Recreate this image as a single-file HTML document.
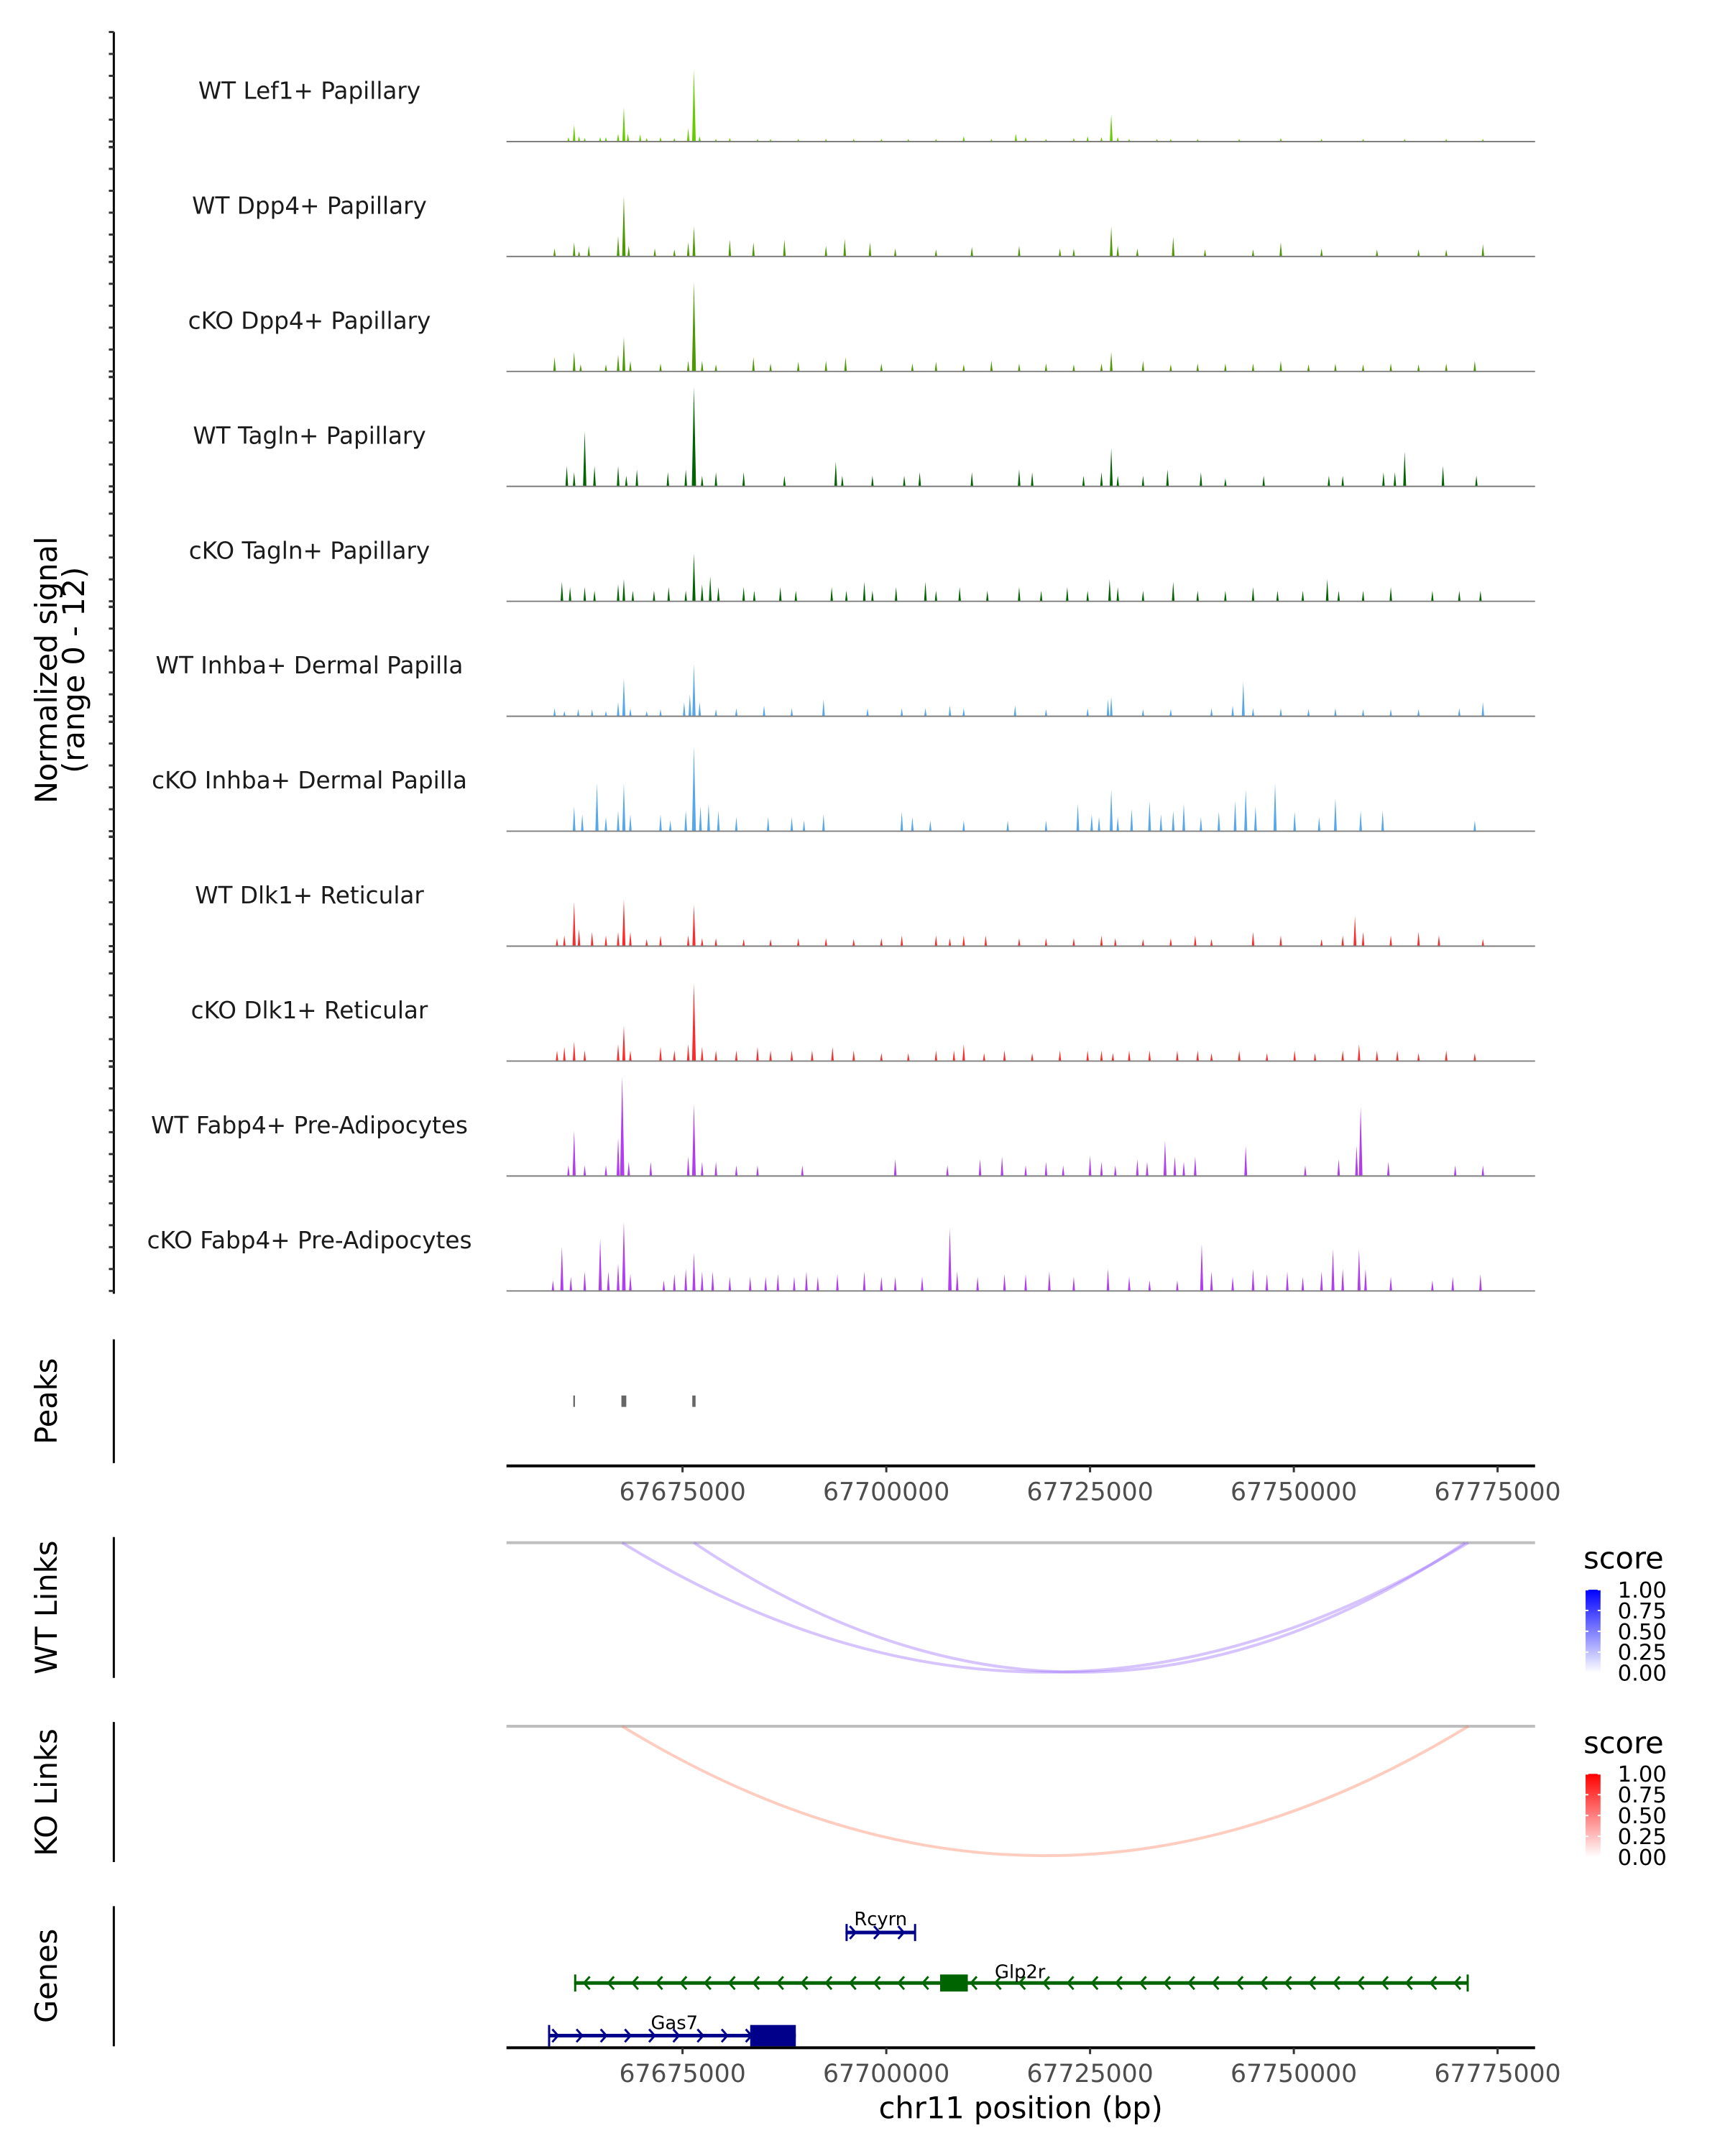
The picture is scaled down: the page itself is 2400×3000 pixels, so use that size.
<!DOCTYPE html>
<html><head><meta charset="utf-8">
<style>
html,body{margin:0;padding:0;background:#fff;}
svg{display:block;font-family:"DejaVu Sans","Liberation Sans",sans-serif;}
</style></head>
<body>
<svg id="chart" width="2400" height="3000" viewBox="0 0 2400 3000" xmlns="http://www.w3.org/2000/svg">
<rect x="0" y="0" width="2400" height="3000" fill="#fff"/>
<g id="root" transform="scale(0.9897)">
<g id="tracks"></g>
<g id="peaks"></g>
<g id="links"></g>
<g id="genes"></g>
<g id="axes"></g>
</g>
</svg>
<script>
// positions in kb after chr11:67,600,000 ; signal values on 0-12 scale
const trackNames = ["WT Lef1+ Papillary","WT Dpp4+ Papillary","cKO Dpp4+ Papillary","WT Tagln+ Papillary","cKO Tagln+ Papillary","WT Inhba+ Dermal Papilla","cKO Inhba+ Dermal Papilla","WT Dlk1+ Reticular","cKO Dlk1+ Reticular","WT Fabp4+ Pre-Adipocytes","cKO Fabp4+ Pre-Adipocytes"];
const trackColors = ["#66cc00","#4c9900","#4c9900","#006400","#006400","#56a7ec","#56a7ec","#ff2a2a","#ff2a2a","#b13cf2","#b13cf2"];
const pos0 = [61.0,61.7,62.3,63.0,64.9,65.6,67.1,67.8,68.3,69.8,70.6,72.3,74.0,75.7,76.4,77.1,79.1,80.8,84.2,85.8,89.2,92.6,96.0,99.4,102.7,106.1,109.5,112.9,115.9,117.1,119.6,123.0,124.7,126.4,127.6,128.4,129.8,133.2,134.9,138.2,143.3,148.4,153.4,158.5,163.6,168.7,173.2];
const val0 = [0.5,1.9,0.6,0.4,0.5,0.5,0.9,3.9,0.9,0.8,0.4,0.5,0.4,1.5,8.1,0.6,0.3,0.4,0.3,0.3,0.3,0.3,0.3,0.3,0.3,0.3,0.6,0.3,0.9,0.5,0.3,0.4,0.6,0.5,3.1,0.5,0.3,0.3,0.3,0.3,0.3,0.4,0.3,0.3,0.3,0.3,0.3];
const pos1 = [59.3,61.7,62.3,63.5,67.1,67.8,68.4,71.6,74.0,75.7,76.4,80.8,83.7,87.5,92.6,94.9,98.0,101.1,106.1,110.5,116.3,121.3,123.0,127.6,128.4,130.8,135.2,139.1,145.0,148.4,153.4,160.2,165.3,168.7,173.2];
const val1 = [0.9,1.6,0.6,1.2,2.3,6.8,1.2,0.9,0.8,1.6,3.4,1.9,1.6,1.9,1.2,2.0,1.6,0.9,0.8,1.1,1.2,0.9,0.9,3.4,1.2,0.9,2.2,0.8,0.8,1.6,0.9,0.8,0.8,0.8,1.4];
const pos2 = [59.3,61.7,62.5,65.6,67.1,67.8,68.6,72.3,75.7,76.4,77.4,79.1,83.7,85.8,89.2,92.6,95.0,99.4,103.2,106.1,109.5,112.9,116.3,119.6,123.0,126.4,127.6,131.5,134.9,138.2,141.6,145.0,148.4,151.8,155.1,158.5,161.9,165.3,168.7,172.2];
const val2 = [1.6,2.2,0.8,0.8,1.9,3.9,1.2,0.9,1.2,10.1,1.2,0.8,1.6,0.9,1.1,1.2,1.6,0.9,0.9,1.1,0.8,1.2,0.9,0.9,0.8,0.9,2.2,1.2,0.8,0.9,0.9,0.9,1.2,0.8,0.9,0.8,0.9,0.8,0.9,1.2];
const pos3 = [60.8,61.7,63.0,64.2,67.1,68.1,69.4,73.2,75.4,76.4,77.4,79.1,82.5,87.5,93.8,94.6,98.3,102.2,104.1,110.5,116.3,117.9,124.2,126.4,127.6,128.4,131.5,134.5,138.6,141.6,146.3,154.3,156.0,161.0,162.4,163.6,168.3,172.4];
const val3 = [2.3,1.6,6.2,2.3,2.3,1.2,1.9,1.6,1.9,11.2,1.2,1.6,1.6,1.2,2.8,1.2,1.2,1.2,1.6,1.6,1.9,1.6,1.2,1.6,4.3,1.2,1.2,1.9,1.6,0.9,1.2,1.2,1.2,1.6,1.6,3.9,2.3,1.2];
const pos4 = [60.2,61.2,63.0,64.2,67.1,67.8,68.9,71.5,73.3,75.4,76.4,77.4,78.4,79.4,82.5,83.8,87.0,88.9,93.3,95.1,97.3,98.3,101.2,104.8,106.1,109.0,112.4,116.3,119.0,122.2,124.7,127.4,128.4,131.5,135.2,138.2,141.6,145.0,148.0,151.1,154.1,155.5,158.5,161.9,167.0,170.3,172.9];
const val4 = [2.2,1.6,1.6,1.2,1.9,2.5,1.2,1.2,1.6,1.2,5.4,1.9,2.8,1.6,1.6,1.2,1.6,1.2,1.6,1.2,2.2,1.2,1.6,2.2,1.2,1.6,1.2,1.6,1.2,1.6,1.2,2.5,1.6,1.2,2.2,1.2,1.2,1.6,1.2,1.2,2.5,1.2,1.2,1.6,1.2,1.2,1.2];
const pos5 = [59.3,60.5,62.2,63.9,65.6,67.1,67.8,68.6,70.6,72.3,75.2,75.9,76.4,77.1,79.1,81.6,85.0,88.4,92.3,97.7,101.9,104.8,107.8,109.5,115.8,119.6,124.7,127.2,127.6,131.5,134.9,139.9,142.5,143.8,145.0,148.4,151.8,155.1,158.5,161.9,165.3,170.3,173.2];
const val5 = [0.9,0.6,0.8,0.8,0.6,1.6,4.3,0.9,0.6,0.8,1.6,2.5,5.9,1.6,0.8,0.9,1.2,0.9,1.9,0.9,0.9,0.9,1.2,0.9,1.2,0.8,0.9,1.9,2.2,0.8,0.8,0.9,1.2,3.9,0.9,0.9,0.8,0.9,0.8,0.8,0.8,0.9,1.6];
const pos6 = [61.7,62.7,64.5,65.6,67.1,67.8,68.6,72.3,73.5,75.4,76.4,77.2,78.2,79.4,81.6,85.5,88.4,89.9,92.3,101.9,103.2,105.4,109.5,114.9,119.6,123.5,125.2,126.1,127.6,128.4,130.1,132.3,133.7,135.2,136.5,138.6,140.8,142.8,144.1,145.3,147.7,150.1,153.1,155.1,158.2,160.9,172.2];
const val6 = [2.8,1.9,5.4,1.6,2.3,5.4,1.9,1.9,1.2,2.3,9.6,2.8,3.1,2.3,1.6,1.6,1.6,1.2,1.9,2.2,1.6,1.2,1.2,1.2,1.2,3.1,1.9,1.6,4.7,1.6,2.5,3.4,1.9,2.3,3.1,1.6,2.2,3.4,4.7,2.8,5.4,2.2,1.6,3.7,2.3,2.3,1.2];
const pos7 = [59.6,60.5,61.7,62.3,63.9,65.6,67.1,67.8,68.6,70.6,72.3,75.7,76.4,77.4,79.1,82.5,85.8,89.2,92.6,96.0,99.4,101.9,106.1,107.8,109.5,112.2,116.3,119.6,123.0,126.4,128.1,131.5,134.9,137.9,139.9,145.0,148.4,153.4,156.0,157.5,158.5,161.9,165.3,167.8,173.2];
const val7 = [0.9,1.2,5.0,1.9,1.6,1.2,1.6,5.3,1.6,0.8,1.2,1.2,4.7,0.9,0.9,0.8,0.8,0.9,0.9,0.8,0.9,1.2,1.2,0.9,1.2,1.2,0.9,0.9,0.9,1.2,0.9,0.8,0.9,1.2,0.8,1.6,1.2,0.8,1.2,3.4,1.6,1.2,1.6,1.2,0.8];
const pos8 = [59.6,60.5,61.7,63.0,67.1,67.8,68.6,72.3,74.0,75.7,76.4,77.4,79.1,81.6,84.2,85.8,88.4,90.9,93.4,96.0,99.4,102.7,106.1,108.3,109.5,112.0,114.5,117.9,121.3,124.7,126.4,127.8,129.8,132.3,135.7,138.2,139.9,143.3,146.7,150.1,152.6,156.0,158.0,160.2,162.7,165.3,168.7,172.2];
const val8 = [1.2,1.6,2.2,1.2,1.9,4.0,1.2,1.6,1.2,1.9,8.8,1.6,1.2,1.2,1.6,1.2,1.2,1.2,1.6,1.2,0.9,0.9,1.2,1.2,1.9,0.9,1.2,0.9,1.2,1.2,1.2,0.9,1.2,1.2,1.2,1.2,0.9,1.2,0.9,1.2,0.9,1.2,1.9,1.2,1.2,0.9,1.2,0.9];
const pos9 = [61.0,61.7,63.0,65.6,67.1,67.6,68.4,71.1,75.7,76.4,77.4,79.1,81.6,84.2,89.7,101.1,107.5,111.5,114.2,117.1,119.6,121.7,125.0,126.4,128.1,130.8,132.0,134.2,135.4,136.5,137.9,144.1,151.4,155.5,157.7,158.2,161.6,169.8,173.2];
const val9 = [1.2,5.1,1.2,1.2,4.3,11.2,1.6,1.6,2.2,8.1,1.6,1.6,1.2,1.2,1.2,1.9,1.2,1.9,2.2,1.2,1.6,1.2,2.3,1.6,1.2,1.9,1.6,4.0,2.2,1.6,2.2,3.4,1.2,1.9,3.4,7.8,1.6,1.2,1.2];
const pos10 = [59.1,60.2,61.3,63.0,64.9,65.9,67.1,67.8,68.6,72.7,74.0,75.4,76.4,77.4,78.7,80.8,83.3,85.2,86.7,88.7,90.2,91.6,94.0,97.3,99.4,101.1,104.4,107.8,108.7,111.2,114.5,117.1,120.0,123.0,127.2,129.8,132.3,135.7,138.7,139.9,142.5,145.0,146.7,149.2,151.1,153.4,154.8,156.0,158.0,158.8,161.9,167.0,169.5,172.9];
const val10 = [1.2,5.0,1.6,2.2,5.9,2.2,3.1,7.8,1.9,1.2,1.9,2.5,4.3,2.2,2.2,1.6,1.6,1.6,1.9,1.6,2.2,1.6,1.9,2.2,1.6,1.6,1.6,7.1,2.2,1.6,1.9,1.9,2.2,1.6,2.5,1.6,1.2,1.2,5.3,2.2,1.6,2.5,1.9,2.2,1.6,2.2,4.7,2.5,4.7,2.5,1.6,1.2,1.6,1.9];
const trackPos = [pos0,pos1,pos2,pos3,pos4,pos5,pos6,pos7,pos8,pos9,pos10];
const trackVal = [val0,val1,val2,val3,val4,val5,val6,val7,val8,val9,val10];
const peakStarts = [61.6,67.5,76.2];
const peakEnds = [61.8,68.1,76.6];
const wtLinkStarts = [67.6,76.4];
const wtLinkEnds = [171.4,171.0];
const wtLinkScores = [0.2,0.2];
const koLinkStarts = [67.6];
const koLinkEnds = [171.4];
const koLinkScores = [0.2];
const geneNames = ["Rcyrn","Glp2r","Gas7"];
const geneStarts = [95.0,61.7,58.5];
const geneEnds = [103.6,171.4,88.9];
const geneStrands = [1,-1,1];
const geneExonStarts = [[95.0,103.4],[106.6,61.7,171.2],[83.3,58.5]];
const geneExonEnds = [[95.2,103.6],[110.0,61.9,171.4],[88.9,58.7]];
const tickValues = [67675000,67700000,67725000,67750000,67775000];
const scoreTicks = ["1.00","0.75","0.50","0.25","0.00"];

const NS="http://www.w3.org/2000/svg";
const X0=712, X1=2158, DOM0=67653.4, DOM1=67779.6, OFF=67600;
function xs(kbOff){return X0+((OFF+kbOff)-DOM0)/(DOM1-DOM0)*(X1-X0);}
function xbp(bp){return xs(bp/1000-OFF);}
const BASE0=199, STEP=161.6, PXU=12.5;
function ys(i,v){return BASE0+i*STEP - v*PXU;}
function mk(tag,attrs,parent){const e=document.createElementNS(NS,tag);for(const k in attrs)e.setAttribute(k,attrs[k]);parent.appendChild(e);return e;}
const gT=document.getElementById('tracks');
trackNames.forEach((nm,i)=>{
  const b=BASE0+i*STEP;
  const g=mk('g',{},gT);
  
  
  const t=mk('text',{x:435,y:b-60,'text-anchor':'middle','font-size':33,fill:'#1a1a1a'},g);
  t.textContent=nm;
  
  
  trackPos[i].forEach((p,j)=>{
    const x=xs(p), top=ys(i,trackVal[i][j]);
    const hw=1.6+trackVal[i][j]*0.12;
    const pk=mk('polygon',{points:`${x-hw},${b} ${x},${top} ${x+hw},${b}`,fill:trackColors[i]},g);
    
    
  });
  const ln=mk('line',{x1:X0,x2:X1,y1:b,y2:b,stroke:'#7f7f7f','stroke-width':2},g);
  
  
});
const gA=document.getElementById('axes');
let ax=mk('line',{x1:160,x2:160,y1:45,y2:1819,stroke:'#000','stroke-width':3},gA);


for(let i=0;i<11;i++){const b=BASE0+i*STEP;
  const ys2=[0,1,2,3,4,5].map(j=>b-j*30.8).concat([b+8]);
  ys2.forEach(y=>{ if(y>=44&&y<=1820){const tk=mk('line',{x1:153,x2:160,y1:y,y2:y,stroke:'#333','stroke-width':3},gA);
    
    }});
}
function vtext(txt,x,y,size,name){const t=mk('text',{x:x,y:y,'text-anchor':'middle','font-size':size,fill:'#000',transform:`rotate(-90 ${x} ${y})`},gA);t.textContent=txt;
  
  return t;}
vtext('Normalized signal',80,942,42,'y-axis-title');
vtext('(range 0 - 12)',118,942,42,'y-axis-range');
vtext('Peaks',80,1970,42,'peaks-title');
vtext('WT Links',80,2260,42,'wt-links-title');
vtext('KO Links',80,2520,42,'ko-links-title');
vtext('Genes',80,2778,42,'genes-title');
[[1883,2057,'peaks-bar'],[2161,2359,'wt-links-bar'],[2421,2618,'ko-links-bar'],[2680,2877,'genes-bar']].forEach(a=>{
  const l=mk('line',{x1:160,x2:160,y1:a[0],y2:a[1],stroke:'#000','stroke-width':3},gA);
  
  
});
function xaxis(y,name){
  const l=mk('line',{x1:X0,x2:X1,y1:y,y2:y,stroke:'#000','stroke-width':4},gA);
  
  
  tickValues.forEach(v=>{const x=xbp(v);
    const tk=mk('line',{x1:x,x2:x,y1:y,y2:y+9,stroke:'#333','stroke-width':3},gA);
    
    
    const t=mk('text',{x:x,y:y+48,'text-anchor':'middle','font-size':35,fill:'#4d4d4d'},gA);t.textContent=String(v);
    
    });
}
xaxis(2061,'peaks-x-axis');
xaxis(2879,'genes-x-axis');
const xt=mk('text',{x:1435,y:2978,'text-anchor':'middle','font-size':42,fill:'#000'},gA);xt.textContent='chr11 position (bp)';


const gP=document.getElementById('peaks');
peakStarts.forEach((s,i)=>{const x0=xs(s),x1=xs(peakEnds[i]);
  const r=mk('rect',{x:x0,y:1962,width:Math.max(2,x1-x0),height:16,fill:'#666'},gP);
  
  });
const gL=document.getElementById('links');
function linkPanel(y0,starts,ends,scores,hue,name){
  const l=mk('line',{x1:X0,x2:X1,y1:y0,y2:y0,stroke:'#bebebe','stroke-width':4},gL);
  
  
  starts.forEach((s,i)=>{const a=xs(s),b=xs(ends[i]),d=182;
    const c=hue==='blue'?`rgba(150,100,255,${0.3+scores[i]*0.8*0.5})`:`rgba(255,120,90,${0.3+scores[i]*0.8*0.5})`;
    const p=mk('path',{d:`M${a},${y0} Q${(a+b)/2},${y0+d*2} ${b},${y0}`,fill:'none',stroke:c,'stroke-width':4},gL);
    
    });
}
linkPanel(2169,wtLinkStarts,wtLinkEnds,wtLinkScores,'blue','wt-link');
linkPanel(2427,koLinkStarts,koLinkEnds,koLinkScores,'red','ko-link');
const defs=mk('defs',{},document.getElementById('chart'));
function grad(id,col){const g=mk('linearGradient',{id:id,x1:0,y1:0,x2:0,y2:1},defs);
  mk('stop',{offset:'0',"stop-color":col},g);mk('stop',{offset:'1',"stop-color":'#ffffff'},g);}
grad('gb','#0000ff');grad('gr','#ff0000');
function legend(ytitle,ybar,gid,name){
  const g=mk('g',{},gL);
  
  
  const t=mk('text',{x:2226,y:ytitle+15,'font-size':42,fill:'#000'},g);t.textContent='score';
  mk('rect',{x:2229,y:ybar,width:21,height:117,fill:`url(#${gid})`},g);
  scoreTicks.forEach((s,k)=>{const y=ybar+k*29.25;
    mk('line',{x1:2229,x2:2233,y1:y,y2:y,stroke:'#fff','stroke-width':2},g);
    mk('line',{x1:2246,x2:2250,y1:y,y2:y,stroke:'#fff','stroke-width':2},g);
    const lt=mk('text',{x:2274,y:y+11,'font-size':31,fill:'#000'},g);lt.textContent=s;});
}
legend(2190,2235,'gb','wt-score-legend');
legend(2450,2494,'gr','ko-score-legend');
const gG=document.getElementById('genes');
const geneY=[2717,2788,2862], geneCol=['#00008b','#006400','#00008b'], geneLab=[[1238,2707],[1434,2781],[948,2853]], exonH=[24,24,30];
geneNames.forEach((nm,i)=>{
  const g=mk('g',{},gG);
  
  
  const y=geneY[i],c=geneCol[i],a=xs(geneStarts[i]),b=xs(geneEnds[i]);
  mk('line',{x1:a,x2:b,y1:y,y2:y,stroke:c,'stroke-width':5},g);
  for(let x=a+14;x<b-6;x+=34){const d=geneStrands[i]*8;
    mk('polyline',{points:`${x-d},${y-9} ${x},${y} ${x-d},${y+9}`,fill:'none',stroke:c,'stroke-width':3},g);}
  geneExonStarts[i].forEach((s,k)=>{const e0=xs(s),e1=xs(geneExonEnds[i][k]);
    mk('rect',{x:e0,y:y-exonH[i]/2,width:Math.max(3,e1-e0),height:exonH[i],fill:c},g);});
  const t=mk('text',{x:geneLab[i][0],y:geneLab[i][1],'text-anchor':'middle','font-size':26,fill:'#000'},g);t.textContent=nm;
});
</script>
</body></html>
